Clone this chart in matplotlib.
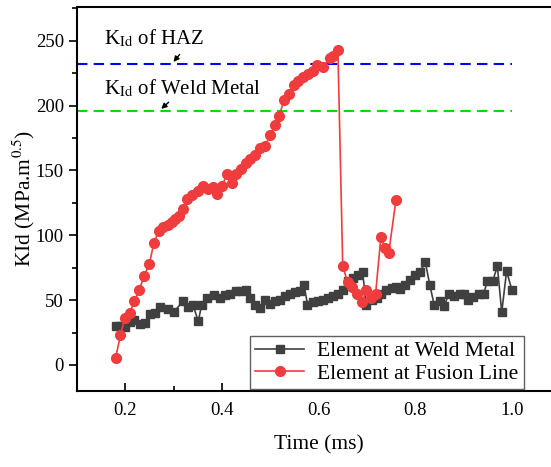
import numpy as np
import matplotlib
matplotlib.use("Agg")
import matplotlib.pyplot as plt
from matplotlib.ticker import MultipleLocator

plt.rcParams['font.family'] = ['Liberation Serif', 'DejaVu Serif']
plt.rcParams['mathtext.fontset'] = 'stix'

# Element at Weld Metal
wm_t = [0.180, 0.190, 0.199, 0.209, 0.219, 0.230, 0.240, 0.251, 0.261, 0.272,
        0.289, 0.300, 0.320, 0.330, 0.340, 0.351, 0.358, 0.370, 0.384, 0.396,
        0.406, 0.417, 0.429, 0.439, 0.449, 0.459, 0.468, 0.479, 0.489, 0.499,
        0.510, 0.520, 0.530, 0.540, 0.551, 0.561, 0.570, 0.577, 0.589, 0.599,
        0.610, 0.620, 0.629, 0.640, 0.651, 0.661, 0.671, 0.682, 0.691, 0.699,
        0.710, 0.720, 0.730, 0.740, 0.751, 0.761, 0.768, 0.778, 0.789, 0.799,
        0.810, 0.821, 0.830, 0.839, 0.851, 0.860, 0.870, 0.880, 0.892, 0.900,
        0.909, 0.920, 0.932, 0.942, 0.949, 0.960, 0.970, 0.979, 0.989, 1.000]
wm_k = [30.3, 30.0, 29.0, 33.0, 34.7, 31.6, 32.0, 39.0, 40.0, 44.4,
        43.0, 41.0, 49.0, 45.0, 46.5, 33.6, 46.3, 52.0, 54.0, 52.0,
        54.0, 55.0, 56.8, 56.8, 58.0, 51.4, 46.5, 44.0, 50.0, 47.0,
        49.0, 50.4, 53.5, 54.8, 56.6, 57.3, 61.7, 46.5, 48.3, 49.0,
        50.0, 51.7, 53.5, 54.8, 57.9, 65.0, 67.0, 69.0, 71.5, 46.5,
        50.0, 52.0, 54.8, 57.9, 59.4, 60.4, 58.6, 61.7, 65.6, 69.7,
        72.0, 79.0, 62.0, 46.5, 49.6, 45.7, 55.0, 53.5, 54.8, 54.8,
        50.0, 52.7, 54.8, 55.0, 64.5, 64.5, 76.0, 40.6, 72.2, 58.0]

# Element at Fusion Line
fl_t = [0.180, 0.190, 0.199, 0.209, 0.219, 0.229, 0.239, 0.250, 0.259, 0.269,
        0.278, 0.288, 0.296, 0.303, 0.311, 0.320, 0.328, 0.339, 0.351, 0.360,
        0.371, 0.381, 0.390, 0.400, 0.410, 0.420, 0.430, 0.439, 0.449, 0.459,
        0.468, 0.479, 0.490, 0.499, 0.510, 0.519, 0.528, 0.539, 0.549, 0.558,
        0.568, 0.579, 0.588, 0.597, 0.610, 0.623, 0.630, 0.640, 0.650, 0.660,
        0.670, 0.680, 0.690, 0.699, 0.709, 0.718, 0.729, 0.737, 0.745, 0.760]
fl_k = [5.5, 23.0, 36.0, 40.0, 49.6, 58.0, 68.7, 78.0, 94.0, 103.0,
        106.0, 108.0, 110.0, 112.6, 115.0, 120.0, 128.0, 131.0, 134.0, 137.6,
        136.0, 137.0, 132.0, 137.6, 147.0, 140.0, 147.0, 151.0, 156.0, 159.0,
        162.0, 167.0, 169.0, 177.0, 185.0, 192.0, 204.5, 209.0, 216.0, 219.0,
        222.0, 224.5, 227.0, 231.0, 229.6, 237.0, 238.6, 242.5, 76.5, 63.7,
        60.0, 54.8, 48.3, 57.9, 52.0, 55.0, 99.0, 90.0, 86.0, 127.0]

kid_haz = 232
kid_weld = 196

fig = plt.figure(figsize=(5.51, 4.67), dpi=100)
ax = fig.add_axes([0.1397, 0.163, 0.877, 0.822])

ax.plot([0.1, 1.0], [kid_haz, kid_haz], color='#0000ff', ls=(0, (5, 3)), lw=1.5)
ax.plot([0.1, 1.0], [kid_weld, kid_weld], color='#00e000', ls=(0, (5, 3)), lw=1.5)

ax.plot(wm_t, wm_k, color='#404040', lw=1.2, marker='s', ms=6,
        label='Element at Weld Metal')
ax.plot(fl_t, fl_k, color='#f03c3c', lw=1.2, marker='o', ms=7,
        label='Element at Fusion Line')

ax.text(0.155, 252, r'K$_{\rm Id}$ of HAZ', fontsize=15, va='center')
ax.text(0.155, 213, r'K$_{\rm Id}$ of Weld Metal', fontsize=15, va='center')
ax.annotate('', xy=(0.296, kid_haz), xytext=(0.316, 241),
            arrowprops=dict(arrowstyle='-|>', color='black', lw=1, mutation_scale=8))
ax.annotate('', xy=(0.270, kid_weld), xytext=(0.294, 204),
            arrowprops=dict(arrowstyle='-|>', color='black', lw=1, mutation_scale=8))

ax.set_xlim(0.1, 1.1)
ax.set_ylim(-20, 276)
ax.xaxis.set_major_locator(MultipleLocator(0.2))
ax.xaxis.set_minor_locator(MultipleLocator(0.1))
ax.yaxis.set_major_locator(MultipleLocator(50))
ax.yaxis.set_minor_locator(MultipleLocator(25))
ax.set_xticks([0.2, 0.4, 0.6, 0.8, 1.0])
ax.set_xticklabels(['0.2', '0.4', '0.6', '0.8', '1.0'])

ax.tick_params(axis='y', which='major', direction='out', length=6, width=1.2, labelsize=13.5)
ax.tick_params(axis='y', which='minor', direction='out', length=3.5, width=1.2)
ax.tick_params(axis='x', which='major', direction='in', length=6, width=1.2, labelsize=13.5, pad=8)
ax.tick_params(axis='x', which='minor', direction='in', length=3.5, width=1.2)
for s in ax.spines.values():
    s.set_linewidth(1.5)

ax.set_xlabel('Time (ms)', fontsize=15.5, labelpad=12)
ax.set_ylabel(r'KId (MPa.m$^{0.5}$)', fontsize=15.5, labelpad=-1)

leg = ax.legend(loc='lower right', bbox_to_anchor=(0.925, 0.005), fontsize=15.5,
                fancybox=False, edgecolor='#606060', framealpha=1,
                handlelength=2.3, handletextpad=0.6, borderpad=0.25,
                labelspacing=0.1, borderaxespad=0)
leg.get_frame().set_linewidth(1.0)

fig.savefig('out.png', dpi=100)
